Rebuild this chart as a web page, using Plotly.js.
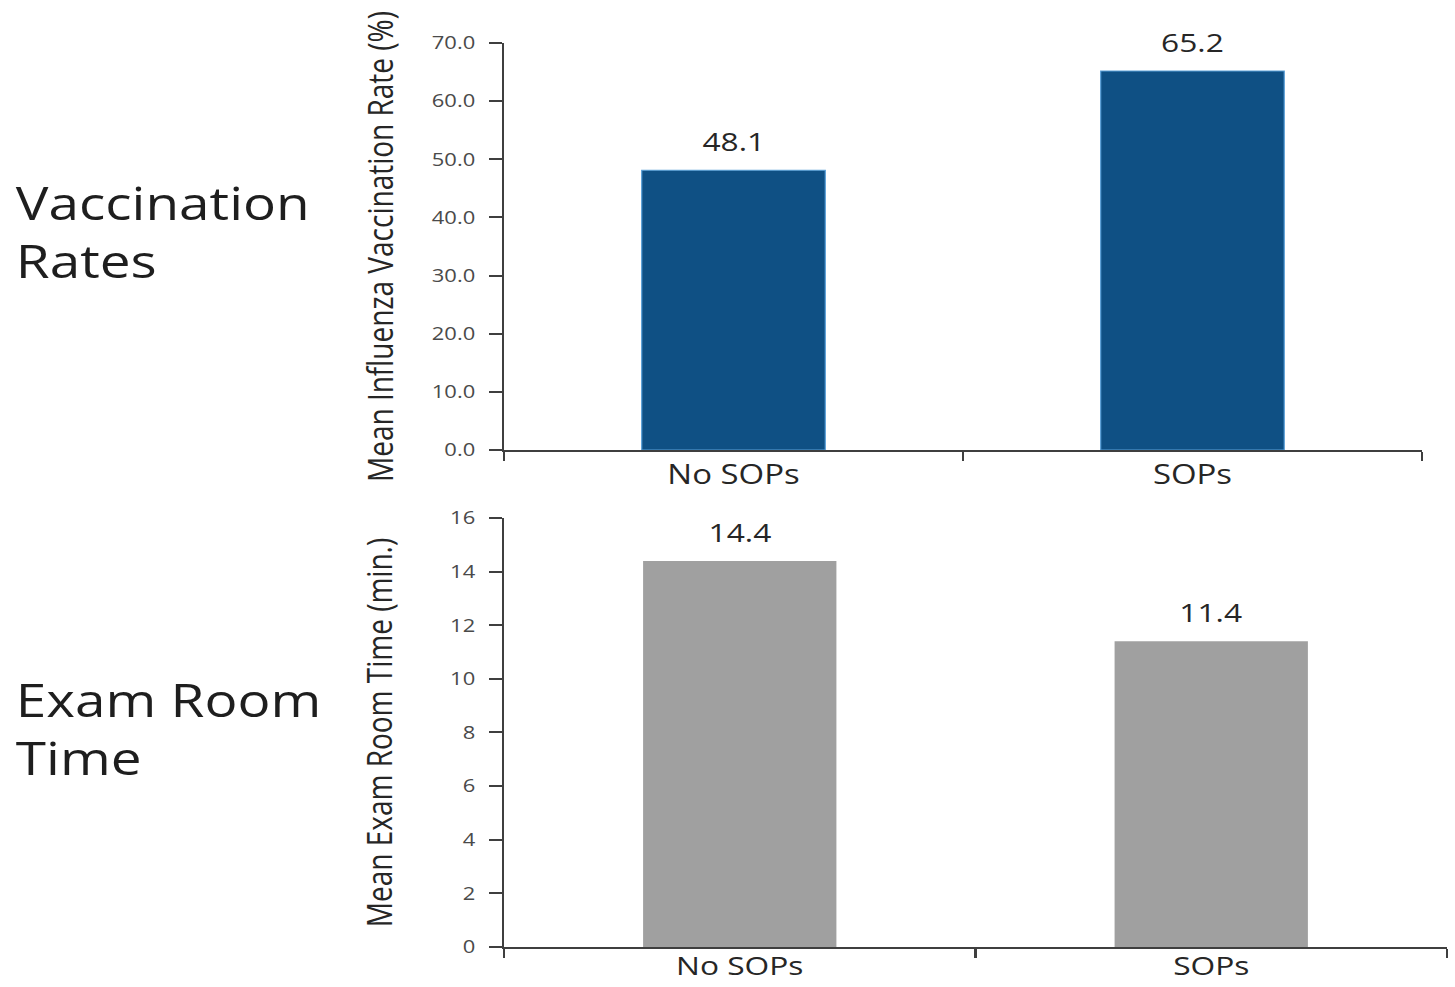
<!DOCTYPE html>
<html>
<head>
<meta charset="utf-8">
<script src="https://cdn.plot.ly/plotly-3.0.1.min.js"></script>
<style>
  html, body { margin: 0; padding: 0; background: #ffffff; overflow: hidden; }
  /* The figure is laid out narrower and widened horizontally, giving the
     broad, stretched lettering of the original slide graphic. */
  #chart {
    width: 1193px;
    height: 987px;
    transform: scaleX(1.2196);
    transform-origin: 0 0;
  }
</style>
</head>
<body>
<div id="chart"></div>
<script>
// Groups compared in both panels
const categories = ["No SOPs", "SOPs"];

// Panel 1: mean influenza vaccination rate (%)
const vaccinationRates = [48.1, 65.2];
const vaccinationTicks = [0, 10, 20, 30, 40, 50, 60, 70];

// Panel 2: mean exam room time (minutes)
const examRoomTimes = [14.4, 11.4];
const examTicks = [0, 2, 4, 6, 8, 10, 12, 14, 16];

// Row labels shown at the left of each panel
const rowLabels = ["Vaccination<br>Rates", "Exam Room<br>Time"];
const yTitles = ["Mean Influenza Vaccination Rate (%)", "Mean Exam Room Time (min.)"];

const FONT = "Open Sans, Noto Sans, sans-serif";
const AXIS_COLOR = "#3f3f3f";
const TICK_COLOR = "#4a4a4a";
const TEXT_COLOR = "#262626";

const traces = [
  {
    type: "bar",
    x: categories,
    y: vaccinationRates,
    xaxis: "x",
    yaxis: "y",
    width: 0.4,
    marker: { color: "#0f5084", line: { color: "#5aa0d8", width: 1 } },
    hoverinfo: "skip"
  },
  {
    type: "bar",
    x: categories,
    y: examRoomTimes,
    xaxis: "x2",
    yaxis: "y2",
    width: 0.41,
    marker: { color: "#a0a0a0" },
    hoverinfo: "skip"
  }
];

function valueLabels(values, xref, yref) {
  return values.map((v, i) => ({
    x: categories[i],
    y: v,
    xref: xref,
    yref: yref,
    text: v.toFixed(1),
    showarrow: false,
    yanchor: "bottom",
    yshift: 9,
    font: { family: FONT, size: 26, color: TEXT_COLOR }
  }));
}

const annotations = []
  .concat(valueLabels(vaccinationRates, "x", "y"))
  .concat(valueLabels(examRoomTimes, "x2", "y2"))
  .concat([
    {
      x: 0.009, y: 0.765, xref: "paper", yref: "paper",
      xanchor: "left", yanchor: "middle", align: "left",
      text: rowLabels[0], showarrow: false,
      font: { family: FONT, size: 45, color: "#1e1e1e" }
    },
    {
      x: 0.009, y: 0.261, xref: "paper", yref: "paper",
      xanchor: "left", yanchor: "middle", align: "left",
      text: rowLabels[1], showarrow: false,
      font: { family: FONT, size: 45, color: "#1e1e1e" }
    }
  ]);

const xCommon = {
  type: "category",
  range: [-0.5, 1.5],
  tickson: "boundaries",
  ticks: "outside",
  ticklen: 9,
  tickwidth: 2,
  tickcolor: AXIS_COLOR,
  showline: true,
  linecolor: AXIS_COLOR,
  linewidth: 2,
  showgrid: false,
  zeroline: false,
  tickfont: { family: FONT, size: 27, color: TEXT_COLOR },
  fixedrange: true
};

const yCommon = {
  ticks: "outside",
  ticklen: 10,
  tickwidth: 2,
  tickcolor: AXIS_COLOR,
  showline: true,
  linecolor: AXIS_COLOR,
  linewidth: 2,
  showgrid: false,
  zeroline: false,
  ticklabelstandoff: 8,
  tickfont: { family: FONT, size: 18, color: TICK_COLOR },
  fixedrange: true
};

const layout = {
  width: 1193,
  height: 987,
  margin: { l: 0, r: 0, t: 0, b: 0 },
  paper_bgcolor: "#ffffff",
  plot_bgcolor: "#ffffff",
  showlegend: false,
  font: { family: FONT },
  xaxis: Object.assign({}, xCommon, { domain: [0.3464, 0.9773], anchor: "y" }),
  yaxis: Object.assign({}, yCommon, {
    domain: [0.5441, 0.9564],
    anchor: "x",
    range: [0, 70],
    tickmode: "array",
    tickvals: vaccinationTicks,
    ticktext: vaccinationTicks.map(v => v.toFixed(1)),
    title: { text: yTitles[0], standoff: 23, font: { family: FONT, size: 28, color: TEXT_COLOR } }
  }),
  xaxis2: Object.assign({}, xCommon, {
    domain: [0.3464, 0.9945],
    anchor: "y2",
    ticklabelstandoff: -5,
    tickfont: { family: FONT, size: 26, color: TEXT_COLOR }
  }),
  yaxis2: Object.assign({}, yCommon, {
    domain: [0.0405, 0.4752],
    anchor: "x2",
    range: [0, 16],
    tickmode: "array",
    tickvals: examTicks,
    ticktext: examTicks.map(v => String(v)),
    title: { text: yTitles[1], standoff: 39, font: { family: FONT, size: 28, color: TEXT_COLOR } }
  }),
  annotations: annotations
};

Plotly.newPlot("chart", traces, layout, { staticPlot: true, displayModeBar: false });
</script>
</body>
</html>
